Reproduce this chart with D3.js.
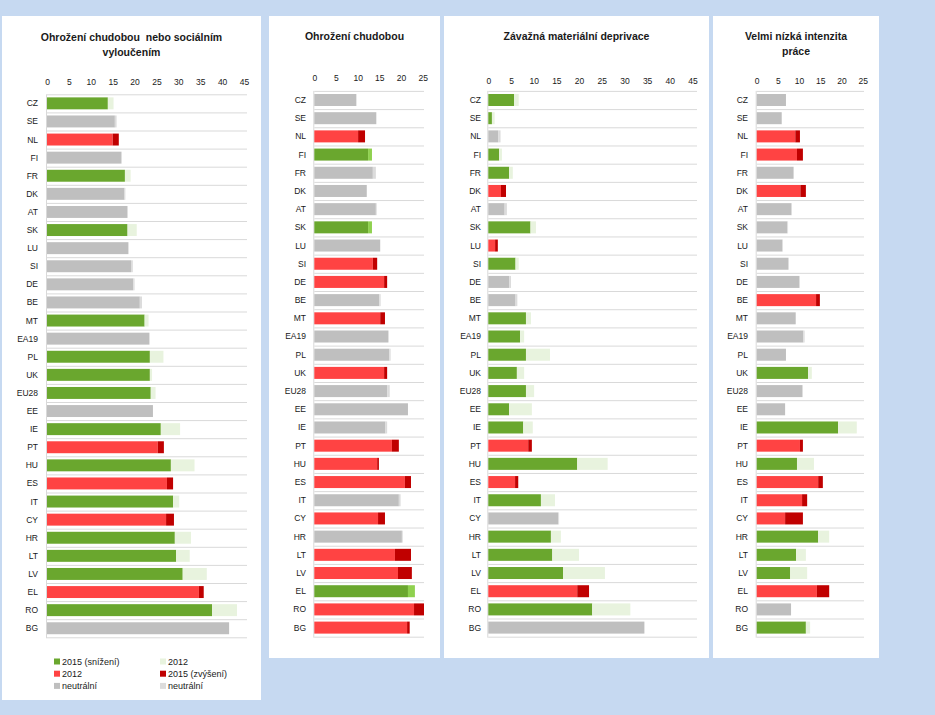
<!DOCTYPE html>
<html><head><meta charset="utf-8">
<script src="https://cdn.jsdelivr.net/npm/d3@7"></script>
<style>
html,body{margin:0;padding:0;background:#c6d9f1;}
svg{display:block;}
text{font-family:"Liberation Sans",Arial,sans-serif;fill:#1a1a1a;}
.title{white-space:pre;}
</style></head>
<body>
<svg id="chart" width="935" height="715"></svg>
<script>
// ---------- DATA ----------
const countries = ["CZ","SE","NL","FI","FR","DK","AT","SK","LU","SI","DE","BE","MT","EA19","PL","UK","EU28","EE","IE","PT","HU","ES","IT","CY","HR","LT","LV","EL","RO","BG"];

// Panel 1: Ohrožení chudobou nebo sociálním vyloučením
const arope2012 = [15.2,15.9,15.0,17.1,19.1,17.9,18.5,20.5,18.6,19.6,20.0,21.7,23.2,23.4,26.6,24.0,24.8,24.2,30.4,25.3,33.7,27.4,30.2,27.2,32.9,32.6,36.5,34.7,43.4,41.6];
const arope2015 = [13.9,15.5,16.4,16.9,17.8,17.7,18.3,18.4,18.6,19.2,19.7,21.2,22.3,23.4,23.5,23.5,23.7,24.2,26.0,26.7,28.3,28.8,28.8,29.0,29.2,29.5,31.0,35.8,37.7,41.6];
const aropeStatus = ["d","n","i","n","d","n","n","d","n","n","n","n","d","n","d","d","d","n","d","i","d","i","d","i","d","d","d","i","d","n"];

// Panel 2: Ohrožení chudobou
const poverty2012 = [9.7,14.3,10.1,13.3,14.2,12.1,14.4,13.3,15.2,13.5,16.1,15.3,15.2,17.1,17.6,16.1,17.4,21.6,16.8,17.9,14.5,20.9,19.9,14.7,20.4,18.6,19.3,23.2,23.0,21.4];
const poverty2015 = [9.7,14.3,11.7,12.4,13.5,12.1,14.2,12.4,15.2,14.5,16.8,15.0,16.3,17.1,17.3,16.8,16.8,21.6,16.4,19.5,14.9,22.3,19.5,16.3,20.2,22.3,22.5,21.6,25.3,22.0];
const povertyStatus = ["n","n","i","d","n","n","n","d","n","i","i","n","i","n","n","i","n","n","n","i","i","i","n","i","n","i","i","d","i","i"];

// Panel 3: Závažná materiální deprivace
const deprivation2012 = [6.7,1.4,2.7,3.0,5.4,2.8,4.1,10.5,1.5,6.7,5.0,6.4,9.4,7.9,13.6,7.9,10.1,9.6,9.8,8.8,26.3,5.9,14.7,15.6,16.0,20.0,25.7,19.6,31.3,34.4];
const deprivation2015 = [5.7,0.8,2.2,2.4,4.6,3.9,3.6,9.3,2.1,6.0,4.6,6.0,8.3,7.0,8.3,6.3,8.3,4.6,7.7,9.6,19.6,6.6,11.6,15.4,13.8,14.1,16.5,22.2,22.9,34.4];
const deprivationStatus = ["d","d","n","d","d","i","n","d","i","d","n","n","d","d","d","d","d","d","d","i","d","i","d","n","d","d","d","i","d","n"];

// Panel 4: Velmi nízká intenzita práce
const workInt2012 = [6.9,5.9,9.1,9.5,8.7,10.3,8.3,7.4,6.2,7.5,10.2,14.0,9.2,11.3,6.9,13.0,10.8,6.7,23.6,10.2,13.5,14.5,10.7,6.7,17.1,11.6,11.9,14.2,8.1,12.6];
const workInt2015 = [6.9,5.9,10.2,10.9,8.7,11.6,8.2,7.2,6.0,7.5,10.0,14.9,9.2,11.0,6.9,12.1,10.8,6.7,19.2,10.9,9.5,15.6,11.9,10.9,14.5,9.3,7.9,17.1,8.1,11.6];
const workIntStatus = ["n","n","i","i","n","i","n","n","n","n","n","i","n","n","n","d","n","n","d","i","d","i","i","i","d","d","d","i","n","d"];

const ticks45 = [0,5,10,15,20,25,30,35,40,45];
const ticks25 = [0,5,10,15,20,25];

const legendLabels = ["2015 (snížení)","2012","neutrální","2012","2015 (zvýšení)","neutrální"];

// ---------- STYLE / LAYOUT ----------
const C = {green:"#6aa72e", paleGreen:"#e8f3de", midGreen:"#8fd14f", red:"#ff4343", darkRed:"#c00000", gray:"#bfbfbf", lightGray:"#dcdcdc", grid:"#d9d9d9"};

const panels = [
  {title:["Ohrožení chudobou  nebo sociálním","vyloučením"], y12:arope2012, y15:arope2015, st:aropeStatus, ticks:ticks45,
   box:[2,16,259,684], x0:47, x1:244, gridEnd:247, top:94.3, bottom:637.3, tickY:84.5, titleY:40.5, labelR:38, light:C.paleGreen},
  {title:["Ohrožení chudobou"], y12:poverty2012, y15:poverty2015, st:povertyStatus, ticks:ticks25,
   box:[269,16,171,642], x0:314.3, x1:422.7, gridEnd:424, top:90.9, bottom:636.7, tickY:80.5, titleY:39.5, labelR:306, light:C.midGreen},
  {title:["Závažná materiální deprivace"], y12:deprivation2012, y15:deprivation2015, st:deprivationStatus, ticks:ticks45,
   box:[444,16,265,642], x0:488.3, x1:692.5, gridEnd:697, top:90.9, bottom:636.7, tickY:84, titleY:39.5, labelR:481, light:C.paleGreen},
  {title:["Velmi nízká intenzita","práce"], y12:workInt2012, y15:workInt2015, st:workIntStatus, ticks:ticks25,
   box:[713,16,166,642], x0:756.7, x1:862.7, gridEnd:864, top:90.9, bottom:636.7, tickY:84, titleY:39.5, labelR:748, light:C.paleGreen}
];

const svg = d3.select("#chart");

panels.forEach(p => {
  const g = svg.append("g");
  const [bx,by,bw,bh] = p.box;
  g.append("rect").attr("x",bx).attr("y",by).attr("width",bw).attr("height",bh).attr("fill","#fff");

  // title
  p.title.forEach((t,i) => {
    g.append("text").attr("class","title").attr("x",bx+bw/2).attr("y",p.titleY+i*15.5)
      .attr("text-anchor","middle").attr("font-size","10.5px").attr("font-weight","bold").text(t);
  });

  const x = d3.scaleLinear().domain([0, d3.max(p.ticks)]).range([p.x0, p.x1]);
  const y = d3.scaleBand().domain(countries).range([p.top, p.bottom]).paddingInner(0.34).paddingOuter(0.17);
  const step = y.step();

  // gridlines
  const lines = d3.range(countries.length+1);
  g.selectAll("line.grid").data(lines).join("line")
    .attr("x1",p.x0).attr("x2",p.gridEnd)
    .attr("y1",i=>p.top+i*step+0.5).attr("y2",i=>p.top+i*step+0.5)
    .attr("stroke",C.grid).attr("stroke-width",1);
  g.append("line").attr("x1",p.x0-0.5).attr("x2",p.x0-0.5).attr("y1",p.top).attr("y2",p.bottom+1)
    .attr("stroke",C.grid).attr("stroke-width",1);

  // top axis
  const ax = g.append("g").attr("transform",`translate(0,${p.tickY})`)
    .call(d3.axisTop(x).tickValues(p.ticks).tickSize(0).tickPadding(0));
  ax.select(".domain").remove();
  ax.selectAll("text").attr("font-size","8.5px").attr("font-family","Liberation Sans, Arial, sans-serif").attr("fill","#222");

  // category labels
  g.selectAll("text.cat").data(countries).join("text")
    .attr("x",p.labelR).attr("y",d=>y(d)+y.bandwidth()/2).attr("dy","0.35em")
    .attr("text-anchor","end").attr("font-size","8.5px").text(d=>d);

  // bars
  const rows = countries.map((c,i)=>({c, a:p.y12[i], b:p.y15[i], s:p.st[i]}));
  const segs = [];
  rows.forEach(r => {
    let base, end, c1, c2;
    if (r.s === "d") { base=r.b; end=r.a; c1=C.green; c2=p.light; }
    else if (r.s === "i") { base=r.a; end=r.b; c1=C.red; c2=C.darkRed; }
    else { base=Math.min(r.a,r.b); end=Math.max(r.a,r.b); c1=C.gray; c2=C.lightGray; }
    segs.push({c:r.c, from:0, to:base, fill:c1});
    if (end > base) segs.push({c:r.c, from:base, to:end, fill:c2});
  });
  g.selectAll("rect.bar").data(segs).join("rect")
    .attr("x",d=>x(d.from)).attr("width",d=>Math.max(0,x(d.to)-x(d.from)))
    .attr("y",d=>y(d.c)).attr("height",y.bandwidth()).attr("fill",d=>d.fill);
});

// legend (panel 1)
const legColors = [C.green, C.red, C.gray, C.paleGreen, C.darkRed, C.lightGray];
const leg = svg.append("g");
legendLabels.forEach((t,i) => {
  const col = Math.floor(i/3), row = i%3;
  const lx = col===0 ? 54 : 160, ly = 661.5 + row*12.2;
  leg.append("rect").attr("x",lx).attr("y",ly-3).attr("width",6).attr("height",6).attr("fill",legColors[i]);
  leg.append("text").attr("x",lx+8).attr("y",ly).attr("dy","0.35em").attr("font-size","9px").text(t);
});
</script>
</body></html>
